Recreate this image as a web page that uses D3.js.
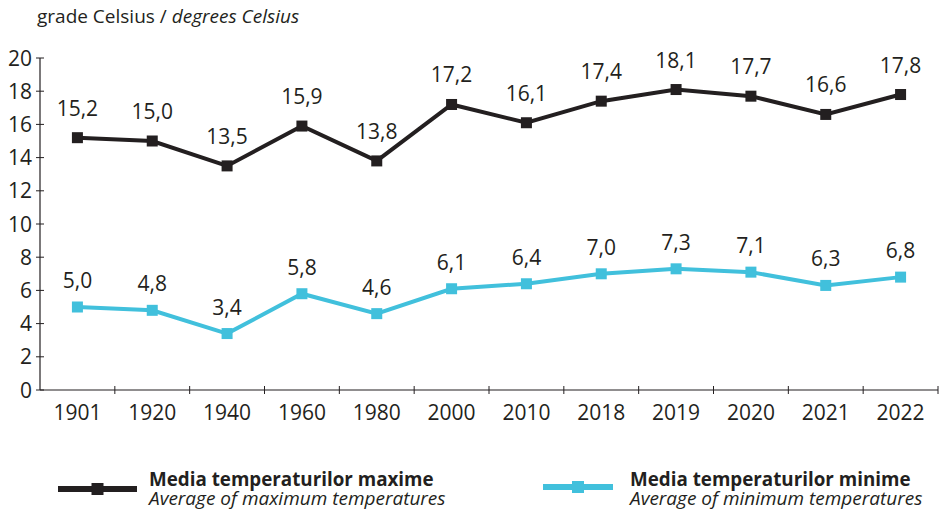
<!DOCTYPE html>
<html>
<head>
<meta charset="utf-8">
<script src="https://cdn.jsdelivr.net/npm/d3@7"></script>
<style>
  body { margin: 0; background: #fff; }
  text { font-family: "Open Sans", "Noto Sans", sans-serif; fill: #231f20; }
</style>
</head>
<body>
<div id="content"></div>
<script>
// date
var years = ["1901", "1920", "1940", "1960", "1980", "2000", "2010", "2018", "2019", "2020", "2021", "2022"];
var maxTemp = [15.2, 15.0, 13.5, 15.9, 13.8, 17.2, 16.1, 17.4, 18.1, 17.7, 16.6, 17.8];
var minTemp = [5.0, 4.8, 3.4, 5.8, 4.6, 6.1, 6.4, 7.0, 7.3, 7.1, 6.3, 6.8];
var yTicks = [0, 2, 4, 6, 8, 10, 12, 14, 16, 18, 20];

var width = 940, height = 516;
var dark = "#231f20", cyan = "#41c0dc";

var svg = d3.select("#content").append("svg")
  .attr("width", width)
  .attr("height", height);

var x = d3.scaleBand().domain(years).range([40, 938]);
var y = d3.scaleLinear().domain([0, 20]).range([390, 58]);

// titlu
svg.append("text")
  .attr("x", 37).attr("y", 23)
  .style("font-size", "19px")
  .text("grade Celsius / ")
  .append("tspan").style("font-style", "italic").text("degrees Celsius");

// axa Y
svg.append("line")
  .attr("x1", 40).attr("x2", 40)
  .attr("y1", y(20)).attr("y2", y(0))
  .attr("stroke", dark).attr("stroke-width", 1.2);

svg.selectAll(".ytick").data(yTicks).enter().append("line")
  .attr("x1", 36).attr("x2", 44)
  .attr("y1", function(d) { return y(d); })
  .attr("y2", function(d) { return y(d); })
  .attr("stroke", dark).attr("stroke-width", 1);

svg.selectAll(".ylab").data(yTicks).enter().append("text")
  .attr("x", 32)
  .attr("y", function(d) { return y(d); })
  .attr("dy", "0.36em")
  .attr("text-anchor", "end")
  .style("font-size", "21px")
  .text(function(d) { return d; });

// axa X
svg.append("line")
  .attr("x1", 40).attr("x2", 938)
  .attr("y1", y(0)).attr("y2", y(0))
  .attr("stroke", dark).attr("stroke-width", 1.2);

svg.selectAll(".xtick").data(years).enter().append("line")
  .attr("x1", function(d) { return x(d) + x.bandwidth(); })
  .attr("x2", function(d) { return x(d) + x.bandwidth(); })
  .attr("y1", y(0) - 4).attr("y2", y(0) + 4)
  .attr("stroke", dark).attr("stroke-width", 1);

svg.selectAll(".xlab").data(years).enter().append("text")
  .attr("x", function(d) { return x(d) + x.bandwidth() / 2; })
  .attr("y", 420)
  .attr("text-anchor", "middle")
  .style("font-size", "21px")
  .text(function(d) { return d; });

var fmt = function(v) { return v.toFixed(1).replace(".", ","); };

function drawSeries(vals, color, off) {
  var pts = years.map(function(yr, i) { return { yr: yr, v: vals[i] }; });
  var line = d3.line()
    .x(function(d) { return x(d.yr) + x.bandwidth() / 2; })
    .y(function(d) { return y(d.v); });

  svg.append("path")
    .datum(pts)
    .attr("d", line)
    .attr("fill", "none")
    .attr("stroke", color)
    .attr("stroke-width", 4);

  svg.selectAll(null).data(pts).enter().append("rect")
    .attr("x", function(d) { return x(d.yr) + x.bandwidth() / 2 - 5.5; })
    .attr("y", function(d) { return y(d.v) - 5.5; })
    .attr("width", 11).attr("height", 11)
    .attr("fill", color);

  svg.selectAll(null).data(pts).enter().append("text")
    .attr("x", function(d) { return x(d.yr) + x.bandwidth() / 2; })
    .attr("y", function(d) { return y(d.v) - off; })
    .attr("text-anchor", "middle")
    .style("font-size", "21px")
    .text(function(d) { return fmt(d.v); });
}

drawSeries(maxTemp, dark, 22);
drawSeries(minTemp, cyan, 19);

// legenda
var legend = [
  { color: dark, x0: 58, x1: 137, ly: 489, tx: 149, bold: "Media temperaturilor maxime", ital: "Average of maximum temperatures" },
  { color: cyan, x0: 543, x1: 613, ly: 487, tx: 630, bold: "Media temperaturilor minime", ital: "Average of minimum temperatures" }
];

var lg = svg.selectAll(".legend").data(legend).enter().append("g");

lg.append("line")
  .attr("x1", function(d) { return d.x0; })
  .attr("x2", function(d) { return d.x1; })
  .attr("y1", function(d) { return d.ly; })
  .attr("y2", function(d) { return d.ly; })
  .attr("stroke", function(d) { return d.color; })
  .attr("stroke-width", 6);

lg.append("rect")
  .attr("x", function(d) { return (d.x0 + d.x1) / 2 - 6; })
  .attr("y", function(d) { return d.ly - 6; })
  .attr("width", 12).attr("height", 12)
  .attr("fill", function(d) { return d.color; });

lg.append("text")
  .attr("x", function(d) { return d.tx; })
  .attr("y", 486)
  .style("font-size", "18.8px")
  .style("font-weight", "bold")
  .text(function(d) { return d.bold; });

lg.append("text")
  .attr("x", function(d) { return d.tx; })
  .attr("y", 505)
  .style("font-size", "19px")
  .style("font-style", "italic")
  .text(function(d) { return d.ital; });
</script>
</body>
</html>
